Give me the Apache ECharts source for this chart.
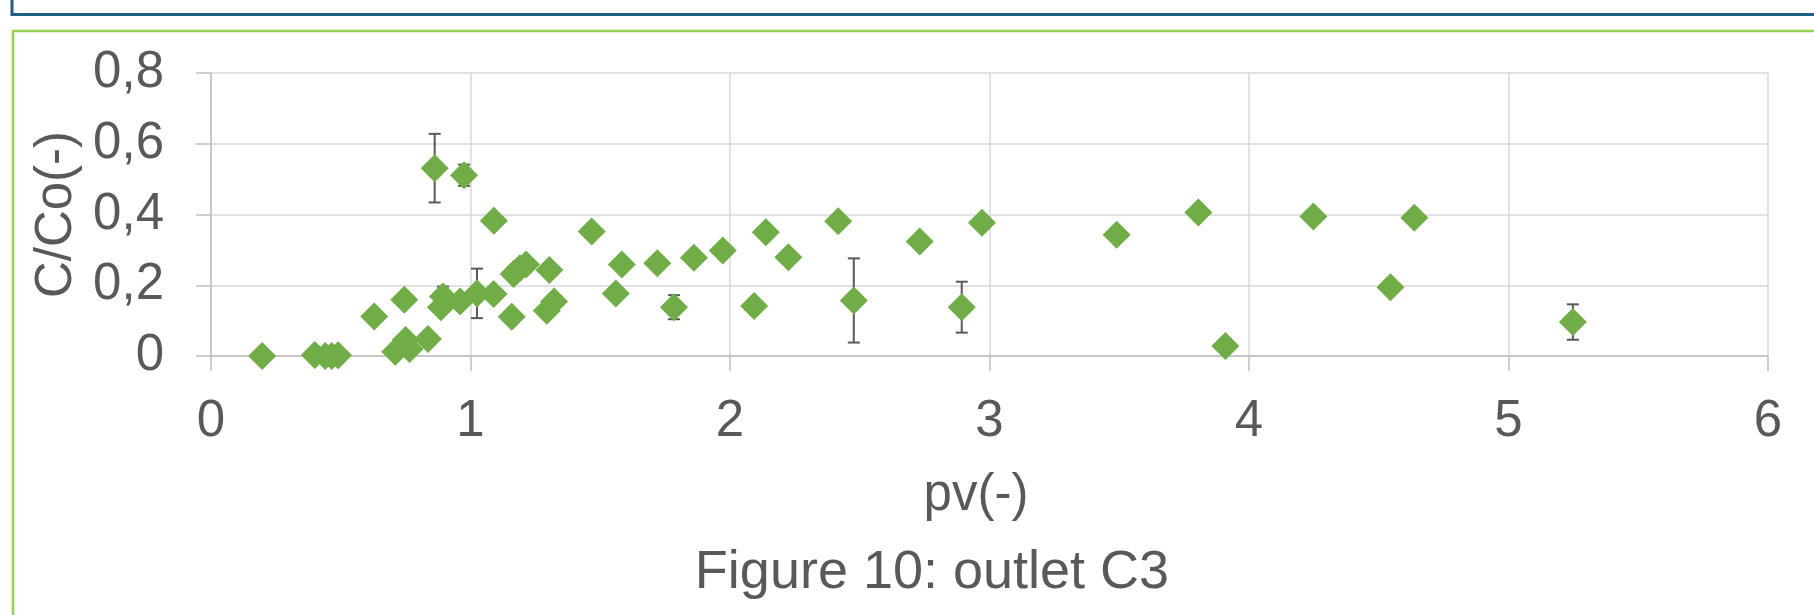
<!DOCTYPE html>
<html>
<head>
<meta charset="utf-8">
<script src="https://cdn.jsdelivr.net/npm/echarts@6/dist/echarts.min.js"></script>
<style>
html,body{margin:0;padding:0;background:#fff;}
#chart{width:1814px;height:615px;}
</style>
</head>
<body>
<div id="chart"></div>
<script>
// Data
var pv  = [0.197, 0.40, 0.44, 0.465, 0.49, 0.629, 0.71, 0.745, 0.75, 0.765, 0.836, 0.862, 0.886, 0.894, 0.96, 0.975, 1.025, 1.089, 1.09, 1.159, 1.166, 1.19, 1.214, 1.294, 1.304, 1.322, 1.467, 1.56, 1.583, 1.72, 1.784, 1.861, 1.972, 2.093, 2.138, 2.225, 2.417, 2.477, 2.731, 2.893, 2.971, 3.49, 3.805, 3.909, 4.248, 4.545, 4.637, 5.248];
var cco = [0.0, 0.003, 0.0, 0.0, 0.002, 0.112, 0.012, 0.159, 0.045, 0.02, 0.048, 0.531, 0.138, 0.168, 0.154, 0.511, 0.177, 0.175, 0.382, 0.111, 0.232, 0.248, 0.259, 0.128, 0.243, 0.154, 0.352, 0.177, 0.259, 0.262, 0.138, 0.278, 0.298, 0.141, 0.350, 0.279, 0.381, 0.157, 0.324, 0.138, 0.377, 0.343, 0.406, 0.028, 0.394, 0.194, 0.391, 0.096];
var err = [0, 0, 0, 0, 0, 0, 0, 0, 0, 0, 0, 0.097, 0, 0.028, 0, 0.03, 0.07, 0, 0, 0, 0, 0, 0, 0, 0, 0, 0, 0, 0, 0, 0.034, 0, 0, 0, 0, 0, 0, 0.119, 0, 0.072, 0, 0, 0, 0, 0, 0, 0, 0.05];
var xTicks = [0, 1, 2, 3, 4, 5, 6];
var yTicks = [0, 0.2, 0.4, 0.6, 0.8];
var xName = 'pv(-)';
var yName = 'C/Co(-)';
var caption = 'Figure 10: outlet C3';

var FONT = '"Liberation Sans", Arial, sans-serif';
var TXT = '#595959';

var points = pv.map(function (x, i) { return [x, cco[i]]; });
var errData = pv.map(function (x, i) { return [x, cco[i], err[i]]; });

var chart = echarts.init(document.getElementById('chart'), null, {renderer: 'canvas'});
chart.setOption({
  animation: false,
  backgroundColor: '#ffffff',
  grid: {left: 211, right: 46, top: 73, bottom: 259, containLabel: false},
  xAxis: {
    type: 'value', min: xTicks[0], max: xTicks[xTicks.length - 1], interval: 1,
    name: xName, nameLocation: 'middle', nameGap: 114,
    nameTextStyle: {color: TXT, fontSize: 51, fontFamily: FONT, padding: [0, 27, 0, 0]},
    axisLine: {show: true, lineStyle: {color: '#bfbfbf', width: 1.5}},
    axisTick: {show: true, length: 15, lineStyle: {color: '#bfbfbf', width: 1.5}},
    axisLabel: {color: TXT, fontSize: 51, fontFamily: FONT, margin: 40},
    splitLine: {show: true, lineStyle: {color: '#d9d9d9', width: 1.5}}
  },
  yAxis: {
    type: 'value', min: yTicks[0], max: yTicks[yTicks.length - 1], interval: 0.2,
    name: yName, nameLocation: 'middle', nameGap: 115, nameRotate: 90,
    nameTextStyle: {color: TXT, fontSize: 51, fontFamily: FONT},
    axisLine: {show: true, lineStyle: {color: '#bfbfbf', width: 1.5}},
    axisTick: {show: true, length: 15, lineStyle: {color: '#bfbfbf', width: 1.5}},
    axisLabel: {color: TXT, fontSize: 51, fontFamily: FONT, margin: 47,
      formatter: function (v) { return (Math.round(v * 10) / 10).toString().replace('.', ','); }},
    splitLine: {show: true, lineStyle: {color: '#d9d9d9', width: 1.5}}
  },
  series: [
    {
      type: 'custom', z: 1, silent: true,
      data: errData,
      renderItem: function (params, api) {
        var x = api.value(0), y = api.value(1), e = api.value(2);
        if (!e) return null;
        var top = api.coord([x, y + e]);
        var bot = api.coord([x, y - e]);
        var cap = 6;
        var st = {stroke: '#595959', lineWidth: 2};
        return {
          type: 'group',
          children: [
            {type: 'line', shape: {x1: top[0], y1: top[1], x2: bot[0], y2: bot[1]}, style: st},
            {type: 'line', shape: {x1: top[0] - cap, y1: top[1], x2: top[0] + cap, y2: top[1]}, style: st},
            {type: 'line', shape: {x1: bot[0] - cap, y1: bot[1], x2: bot[0] + cap, y2: bot[1]}, style: st}
          ]
        };
      }
    },
    {
      type: 'scatter', z: 3,
      symbol: 'diamond', symbolSize: 28,
      itemStyle: {color: '#70ad47', opacity: 1},
      emphasis: {disabled: true},
      data: points
    }
  ],
  graphic: [
    {type: 'polyline', silent: true, shape: {points: [[12, 0], [12, 14.5], [1814, 14.5]]},
      style: {stroke: '#1f5f7e', lineWidth: 3, fill: null}},
    {type: 'polyline', silent: true, shape: {points: [[13, 615], [13, 31], [1814, 31]]},
      style: {stroke: '#92d050', lineWidth: 2.5, fill: null}},
    {type: 'text', silent: true, x: 932, y: 573,
      style: {text: caption, fill: TXT, font: '54px ' + FONT, align: 'center', verticalAlign: 'middle'}}
  ]
});
</script>
</body>
</html>
